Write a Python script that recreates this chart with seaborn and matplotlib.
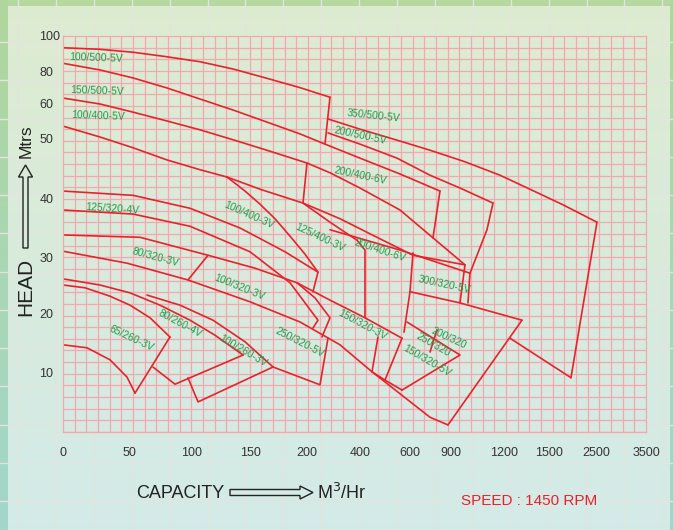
import numpy as np
import matplotlib
matplotlib.use("Agg")
import matplotlib.pyplot as plt
import seaborn as sns
import pandas as pd
from matplotlib.patches import Polygon

sns.set_theme(style="white")
plt.rcParams['font.family'] = ['Liberation Sans', 'DejaVu Sans']

# ---- axis definition (non-linear chart scale) ----
x_ticks = [0, 50, 100, 150, 200, 400, 600, 900, 1200, 1500, 2500, 3500]
x_frac = [0, .1132, .2213, .3208, .4185, .5094, .5952, .6655, .7564, .8336, .9142, 1.0]
y_ticks = [0, 10, 20, 30, 40, 50, 60, 80, 100]
y_frac = [0, .149, .3005, .4419, .5884, .7424, .8283, .9116, 1.0]
y_labels = [10, 20, 30, 40, 50, 60, 80, 100]

# ---- pump outlines (capacity m3/hr, head m) ----
curves = {
    "100/500-5V top": ([0, 28.0, 53.4, 79.5, 106.9, 135.6, 164.7, 193.9, 286.8],
                       [93.3, 92.4, 90.7, 88.2, 85.3, 81.1, 75.6, 69.9, 64.1]),
    "100/500-5V edge": ([286.8, 267.9], [64.1, 49.0]),
    "L2": ([0, 28.0, 53.2, 80.2, 106.9, 135.6, 164.7, 193.9, 267.9, 400, 560, 819.5],
           [84.4, 80.6, 75.8, 69.7, 63.0, 58.2, 54.7, 51.2, 49.0, 46.7, 44.1, 41.3]),
    "150/500-5V edge": ([819.5, 768.3, 979.2], [41.3, 33.3, 28.6]),
    "L3": ([0, 28.0, 53.2, 80.2, 106.9, 135.6, 164.7, 200, 286.8, 400, 560, 768.3],
           [63.6, 60.0, 57.6, 55.0, 52.4, 49.7, 48.0, 45.9, 44.3, 41.8, 38.1, 33.3]),
    "100/400-5V edge": ([200, 196.5], [45.9, 39.3]),
    "L4": ([0, 28.0, 53.2, 80.2, 106.9, 130.2, 158.8, 196.5, 324.5, 440, 622, 979.2],
           [53.5, 50.3, 48.4, 46.4, 44.8, 43.6, 41.6, 39.3, 36.6, 34.0, 30.3, 28.6]),
    "L4 edge": ([979.2, 950.9], [28.6, 21.8]),
    "350/500-5V top": ([279.3, 400, 560, 746.3, 979.2, 1177.4, 1373.3, 1798, 2520],
                       [55.6, 52.6, 49.5, 48.0, 46.1, 43.9, 41.6, 39.0, 36.0]),
    "350/500-5V edge": ([2520, 1968], [36.0, 9.2]),
    "350/500-5V bottom": ([1968, 1240], [9.2, 15.8]),
    "200/500-5V top": ([279.3, 400, 548, 746.3, 950.9, 1137.7], [51.5, 49.0, 46.7, 43.9, 41.8, 39.3]),
    "200/500-5V edge": ([1137.7, 1103.8, 1007.5, 996.2], [39.3, 34.7, 27.1, 21.8]),
    "Z2": ([286.8, 560, 1007.5], [34.7, 31.2, 27.1]),
    "L5": ([0, 53.2, 98.4, 141.4, 180.7, 241.5], [41.3, 40.6, 38.4, 35.0, 30.9, 27.3]),
    "L5b": ([0, 53.2, 98.4, 150, 185.1, 241.5, 222.6], [38.1, 37.4, 35.3, 30.9, 25.4, 18.8, 17.5]),
    "100/400-3V edge": ([130.2, 145.7, 158.8, 171.9, 185.1, 198.2, 241.5, 222.6],
                        [43.6, 41.3, 39.1, 36.6, 33.6, 30.5, 27.3, 23.8]),
    "125/400-3V edge": ([196.5, 286.8, 388.7, 420, 420], [39.3, 36.0, 32.9, 31.2, 19.2]),
    "200/400-6V edge": ([622, 600, 576], [30.7, 23.8, 16.8]),
    "T": ([0, 58.7, 113.8, 154.4, 191.2, 286.8, 420, 568], [33.8, 33.4, 30.3, 28.0, 25.4, 22.3, 19.2, 15.8]),
    "T edge": ([191.2, 230.2, 286.8, 256.6], [25.4, 22.7, 19.2, 16.0]),
    "80/320-3V edge": ([113.8, 96.8], [30.3, 25.9]),
    "B": ([0, 48.5, 96.8, 150, 193.9, 324.5, 448, 746.3, 878], [31.0, 28.9, 25.9, 22.0, 18.5, 14.7, 10.2, 2.5, 1.2]),
    "80/260-4V top": ([0, 28.0, 50.8, 74.6, 98.4, 119.8, 144.0], [26.1, 25.0, 23.6, 21.4, 18.8, 16.3, 13.0]),
    "80/260-4V edge": ([144, 86.5, 69.0], [13.0, 8.1, 11.0]),
    "65/260-3V top": ([0, 16.7, 35.6, 50.8, 66.7, 82.5], [25.0, 24.5, 23.0, 21.4, 19.2, 16.0]),
    "65/260-3V edge": ([82.5, 54.8], [16.0, 6.6]),
    "65/260-3V bottom": ([0, 18.2, 35.6, 48.5, 54.8], [14.7, 14.2, 12.2, 9.3, 6.6]),
    "100/260-3V top": ([64.3, 90.5, 118.1, 145.7, 170.2], [23.2, 21.4, 18.8, 15.2, 11.0]),
    "100/260-3V edge": ([170.2, 105.2, 100.9, 96.8], [11.0, 5.1, 7.1, 9.2]),
    "250/320-5V edge": ([170.2, 249.1, 279.3], [11.0, 8.0, 15.8]),
    "300/320-5V top": ([600, 950.9, 1320], [23.8, 21.8, 18.8]),
    "300/320-5V edge": ([1320, 878], [18.8, 1.2]),
    "150/320-3V edge": ([568, 500], [15.8, 8.8]),
    "150/320-3V inner": ([472, 448], [16.0, 10.2]),
    "200/320 edge": ([588, 950.9, 568], [18.5, 13.0, 7.1]),
    "200/320 bottom": ([448, 500, 568], [10.2, 8.8, 7.1]),
    "250/320 edge": ([797.6, 746.3], [17.2, 13.5]),
}

# ---- labels: text, capacity, head, rotation ----
labels = [
    ("100/500-5V", 25.0, 87.4, -2), ("150/500-5V", 25.8, 67.9, -2), ("100/400-5V", 26.5, 56.5, -2),
    ("125/320-4V", 37.1, 38.3, -4), ("100/400-3V", 149, 37.2, -24), ("125/400-3V", 249, 33.4, -25),
    ("200/400-6V", 480, 31.2, -18), ("200/400-6V", 400, 43.8, -12), ("200/500-5V", 400, 50.6, -12),
    ("350/500-5V", 456, 56.5, -6), ("300/320-5V", 849, 25.0, -12), ("80/320-3V", 70.6, 30.0, -15),
    ("100/320-3V", 140.5, 24.6, -22), ("80/260-4V", 90.5, 18.2, -28), ("65/260-3V", 51.6, 15.8, -25),
    ("100/260-3V", 144, 13.7, -30), ("250/320-5V", 194, 15.0, -27), ("150/320-3V", 408, 18.0, -28),
    ("200/320", 885, 15.8, -25), ("250/320", 768, 14.7, -30), ("150/320-5V", 724, 12.0, -30),
]

RED = "#e8222c"
GREEN = "#1f9d4c"
PINK = "#f4a7ae"

W, H = 673, 530
fig = plt.figure(figsize=(W / 100, H / 100), dpi=100)

# background
bg = fig.add_axes([0, 0, 1, 1], zorder=-10)
t = np.linspace(0, 1, H)[:, None, None]
top = np.array([0.867, 0.925, 0.816])
bot = np.array([0.827, 0.918, 0.910])
img = np.ones((H, W, 3)) * (top * (1 - t) + bot * t)
img[:6, :, :] = [0.71, 0.85, 0.62]
lt = np.array([0.69, 0.84, 0.61]); lb = np.array([0.64, 0.84, 0.80])
img[:, :8, :] = (lt * (1 - t[:, 0]) + lb * t[:, 0])[:, None, :]
img[:, 670:, :] = (lt * (1 - t[:, 0]) + lb * t[:, 0])[:, None, :]
bg.imshow(img, extent=[0, W, H, 0], aspect='auto', interpolation='bilinear')
for gx in np.arange(18, W, 37.9):
    bg.axvline(gx, color='#e2e4de', lw=1.0, zorder=1)
for gy in np.arange(42 - 38.25, H, 38.25):
    if gy > 6:
        bg.axhline(gy, color='#e2e4de', lw=1.0, zorder=1)
bg.set_xlim(0, W); bg.set_ylim(H, 0)
bg.axis('off')

ax = fig.add_axes([63 / W, 1 - 432 / H, 583 / W, 396 / H])
ax.set_facecolor('none')

def fx(v):
    return np.interp(v, x_ticks, x_frac)
def ix(f):
    return np.interp(f, x_frac, x_ticks)
def fy(v):
    return np.interp(v, y_ticks, y_frac)
def iy(f):
    return np.interp(f, y_frac, y_ticks)

ax.set_xscale('function', functions=(fx, ix))
ax.set_yscale('function', functions=(fy, iy))
ax.set_xlim(0, 3500)
ax.set_ylim(0, 100)

ax.set_xticks(ix(np.linspace(0, 1, 51)), minor=True)
ax.set_yticks(iy(np.linspace(0, 1, 35)), minor=True)
ax.grid(which='minor', color=PINK, lw=0.9)
ax.grid(which='major', visible=False)
for s in ax.spines.values():
    s.set_color(PINK); s.set_linewidth(0.9)

ax.set_xticks(x_ticks)
ax.set_xticklabels([str(v) for v in x_ticks], fontsize=9, color='#333333')
ax.set_yticks(y_labels)
ax.set_yticklabels([str(v) for v in y_labels], fontsize=9, color='#333333')
ax.tick_params(axis='x', which='both', length=0, pad=11)
ax.tick_params(axis='y', which='both', length=0, pad=17)
for lab in ax.get_yticklabels():
    lab.set_ha('left')

rows = []
for name, (xs, ys) in curves.items():
    for xv, yv in zip(xs, ys):
        rows.append((name, xv, yv))
df = pd.DataFrame(rows, columns=['seg', 'cap', 'head'])
sns.lineplot(data=df, x='cap', y='head', units='seg', estimator=None, sort=False,
             color=RED, lw=1.2, ax=ax, legend=False)
ax.set_xlabel(''); ax.set_ylabel('')

for txt, xv, yv, rot in labels:
    ax.text(xv, yv, txt, color=GREEN, fontsize=7.5, rotation=rot,
            rotation_mode='anchor', ha='center', va='center')

def P(x, y):
    return (x / W, 1 - y / H)

# axis titles
fig.text(*P(25.5, 287), "HEAD", rotation=90, fontsize=15, ha='center', va='center', color='#222222')
fig.text(*P(26, 141), "Mtrs", rotation=90, fontsize=12.5, ha='center', va='center', color='#222222')
va_pts = [(23, 248), (23, 177), (18.5, 177), (25.5, 165), (32.5, 177), (28, 177), (28, 248)]
fig.patches.append(Polygon([P(*p) for p in va_pts], closed=True, fill=False, ec='#222222', lw=1.0,
                           transform=fig.transFigure))
fig.text(*P(180, 493), "CAPACITY", fontsize=13, ha='center', va='center', color='#222222')
ha_pts = [(230, 489.5), (300, 489.5), (300, 486), (313, 492.5), (300, 499), (300, 495.5), (230, 495.5)]
fig.patches.append(Polygon([P(*p) for p in ha_pts], closed=True, fill=False, ec='#222222', lw=1.0,
                           transform=fig.transFigure))
fig.text(*P(317, 493), r"M$^3$/Hr", fontsize=13, ha='left', va='center', color='#222222')
fig.text(*P(529, 501), "SPEED : 1450 RPM", fontsize=11, ha='center', va='center', color=RED)

fig.savefig("out.png", dpi=100)
